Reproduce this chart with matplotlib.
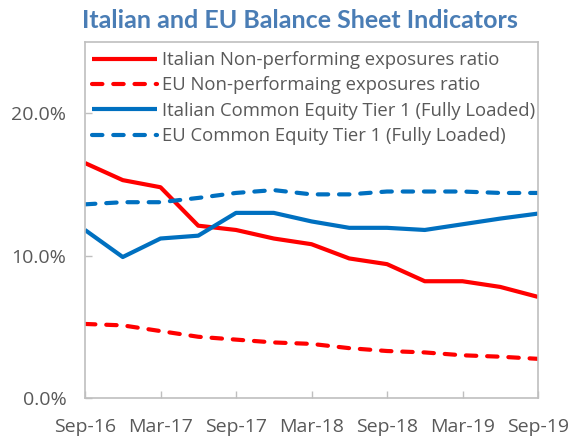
import matplotlib
matplotlib.use('Agg')
import matplotlib.pyplot as plt
from matplotlib.ticker import FuncFormatter, MultipleLocator

# quarterly observations, Sep-16 .. Sep-19
quarters = ['Sep-16', 'Dec-16', 'Mar-17', 'Jun-17', 'Sep-17', 'Dec-17', 'Mar-18',
            'Jun-18', 'Sep-18', 'Dec-18', 'Mar-19', 'Jun-19', 'Sep-19']
it_npe = [16.5, 15.3, 14.8, 12.1, 11.8, 11.2, 10.8, 9.8, 9.4, 8.2, 8.2, 7.8, 7.1]
eu_npe = [5.2, 5.1, 4.7, 4.3, 4.1, 3.9, 3.8, 3.5, 3.3, 3.2, 3.0, 2.9, 2.75]
it_cet1 = [11.8, 9.9, 11.2, 11.4, 13.0, 13.0, 12.4, 11.95, 11.95, 11.8, 12.2, 12.6, 12.95]
eu_cet1 = [13.6, 13.75, 13.75, 14.05, 14.4, 14.6, 14.3, 14.3, 14.5, 14.5, 14.5, 14.4, 14.4]

labels = ['Italian Non-performing exposures ratio',
          'EU Non-performaing exposures ratio',
          'Italian Common Equity Tier 1 (Fully Loaded)',
          'EU Common Equity Tier 1 (Fully Loaded)']

RED = '#FF0000'
BLUE = '#0070C0'
GREY = '#595959'

plt.rcParams['font.family'] = ['Open Sans', 'DejaVu Sans']

fig = plt.figure(figsize=(5.75, 4.4), dpi=100)
ax = fig.add_axes([85/575, 42/440, 453/575, 356/440])

x = range(len(quarters))
dash = (2.5, 2.6)
ax.plot(x, it_npe, color=RED, lw=3, label=labels[0], solid_capstyle='butt')
ax.plot(x, eu_npe, color=RED, lw=3, ls=(0, dash), dash_capstyle='round', label=labels[1])
ax.plot(x, it_cet1, color=BLUE, lw=3, label=labels[2], solid_capstyle='butt')
ax.plot(x, eu_cet1, color=BLUE, lw=3, ls=(0, dash), dash_capstyle='round', label=labels[3])

ax.set_xlim(0, len(quarters) - 1)
ax.set_ylim(0, 25)
ax.set_xticks(list(x)[::2])
ax.set_xticklabels(quarters[::2])
ax.yaxis.set_major_locator(MultipleLocator(10))
ax.yaxis.set_major_formatter(FuncFormatter(lambda v, p: '%.1f%%' % v))

for s in ax.spines.values():
    s.set_color('#BFBFBF')
    s.set_linewidth(1.2)
ax.tick_params(direction='in', length=5, width=1, color='#BFBFBF',
               labelsize=14, labelcolor=GREY)
ax.tick_params(axis='x', pad=14.5)
ax.tick_params(axis='y', pad=13.5)

leg = ax.legend(loc='upper left', bbox_to_anchor=(92/575, 1 - 51/440),
                bbox_transform=fig.transFigure, frameon=False,
                fontsize=13.3, handlelength=3.5, handletextpad=0.3,
                labelspacing=0.4, borderaxespad=0, borderpad=0, labelcolor=GREY)

fig.text(300/575, 1 - 20/440, 'Italian and EU Balance Sheet Indicators',
         ha='center', va='center', fontsize=18, fontweight='bold',
         color='#4A7DB5', family=['Lato', 'DejaVu Sans'])

fig.savefig('out.png', dpi=100)
